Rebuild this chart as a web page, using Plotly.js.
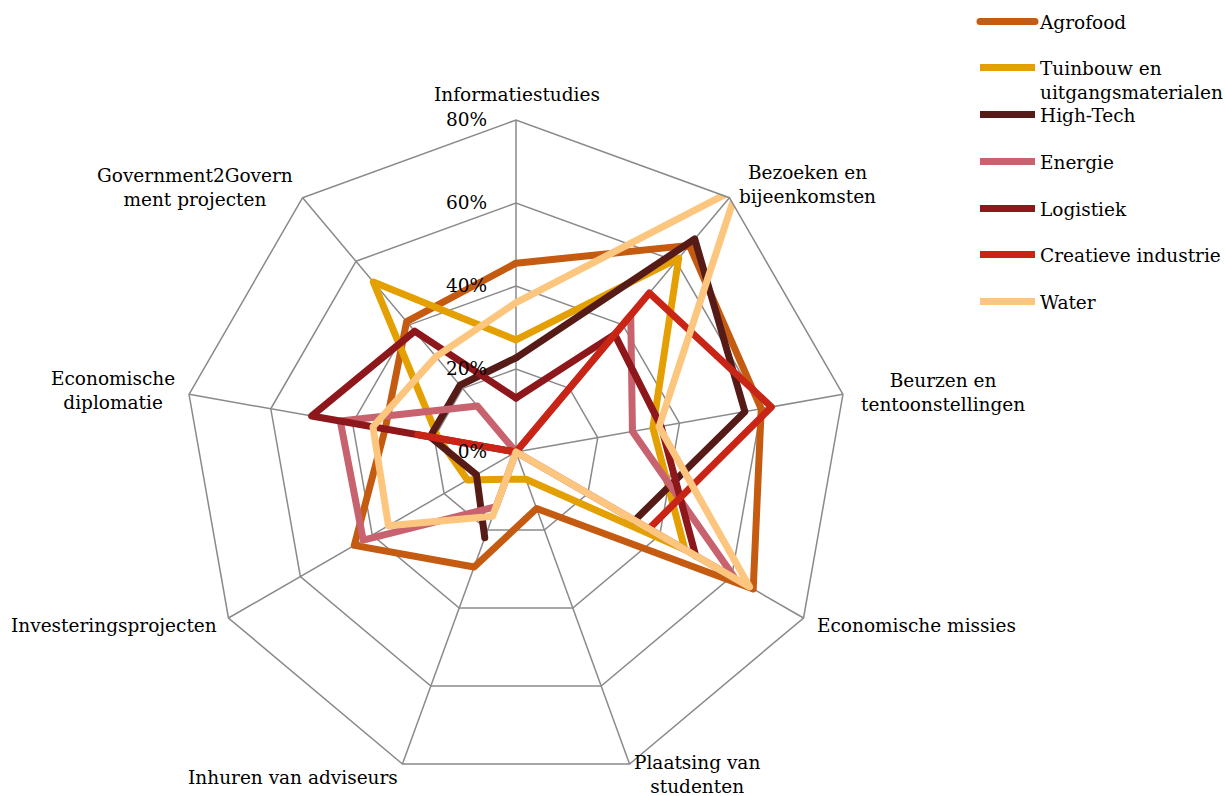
<!DOCTYPE html>
<html><head><meta charset="utf-8">
<script src="https://cdn.plot.ly/plotly-3.0.1.min.js"></script>
<style>
html,body{margin:0;padding:0;background:#fff;}
#chart{width:1225px;height:796px;}
.js-plotly-plot .scatterlayer .js-line, .js-plotly-plot .legend .js-line {stroke-linejoin:round !important; stroke-linecap:round !important;}
</style></head><body><div id="chart"></div><script>
const categories = ['Informatiestudies','Bezoeken en<br>bijeenkomsten','Beurzen en<br>tentoonstellingen','Economische missies','Plaatsing van<br>studenten','Inhuren van adviseurs','Investeringsprojecten','Economische<br>diplomatie','Government2Govern<br>ment projecten'];
const seriesNames = ['Agrofood','Tuinbouw en<br>uitgangsmaterialen','High-Tech','Energie','Logistiek','Creatieve industrie','Water'];
const agrofood  = [45.5, 65, 60, 66, 14.5, 29.5, 45, 32, 41];
const tuinbouw  = [27, 61, 33.5, 47, 7, 7, 13.5, 19, 53.5];
const highTech  = [22.7, 67, 56, 33, null, 22, 11, 21, 21];
const energie   = [0, 43, 28.5, 61, 0, 14, 42.5, 43, 14.5];
const logistiek = [13, 37, 35.5, 50, null, 0, 0, 50, 38];
const creatief  = [0, 50, 62.5, 37, null, null, null, 24, 0];
const water     = [36, 83, 35, 65, 0, 16.5, 35.5, 35, 30];
const radialTicks = [0, 20, 40, 60, 80];
const radialTickLabels = ['0%', '20%', '40%', '60%', '80%'];

const allSeries = [agrofood, tuinbouw, highTech, energie, logistiek, creatief, water];
const colors = ['#C55A11','#E3A000','#561B17','#C8626F','#8E171B','#C92516','#FDC67F'];
const legendY = [22, 80, 115, 162, 209, 255, 302];
// label centres (px) for the category texts
const labelPos = [[517,94],[807,185],[943,392],[916,625],[697,774],[293,777],[114,625],[113,391],[195,187]];
const W = 1225, H = 796;
const serif = 'DejaVu Serif, serif';
const fs = 18.5;

const traces = allSeries.map((vals, i) => ({
  type: 'scatterpolar',
  mode: 'lines',
  r: vals.concat([vals[0]]),
  theta: categories.concat([categories[0]]),
  name: seriesNames[i],
  line: {color: colors[i], width: 7},
  connectgaps: false,
  cliponaxis: false,
  hoverinfo: 'skip',
  legend: i === 0 ? 'legend' : 'legend' + (i + 1)
}));

const layout = {
  width: W, height: H,
  margin: {l: 0, r: 0, t: 0, b: 0, autoexpand: false},
  paper_bgcolor: '#fff',
  font: {family: serif, size: fs, color: '#000'},
  showlegend: true,
  polar: {
    domain: {x: [184 / W, 848 / W], y: [12 / H, 676 / H]},
    gridshape: 'linear',
    bgcolor: '#fff',
    radialaxis: {
      range: [0, 80], tickmode: 'array', tickvals: radialTicks,
      ticktext: radialTickLabels,
      angle: 90, side: 'counterclockwise', tickangle: 90,
      showline: false, ticks: 'outside', ticklen: 22, tickcolor: 'rgba(0,0,0,0)',
      gridcolor: '#8a8a8a', gridwidth: 1.5,
      tickfont: {family: serif, size: fs, color: '#000'}
    },
    angularaxis: {
      rotation: 90, direction: 'clockwise', type: 'category',
      categoryarray: categories, categoryorder: 'array',
      linecolor: '#8a8a8a', linewidth: 1.5, gridcolor: '#8a8a8a', gridwidth: 1.5,
      ticks: '', showticklabels: false
    }
  },
  annotations: categories.map((c, i) => ({
    text: c, xref: 'paper', yref: 'paper',
    x: labelPos[i][0] / W, y: 1 - labelPos[i][1] / H,
    xanchor: 'center', yanchor: 'middle', align: 'center', showarrow: false,
    font: {family: serif, size: fs, color: '#000'}
  }))
};
legendY.forEach((y, i) => {
  const key = i === 0 ? 'legend' : 'legend' + (i + 1);
  layout[key] = {
    x: 975 / W, xanchor: 'left', y: 1 - y / H, yanchor: 'middle',
    bgcolor: 'rgba(0,0,0,0)', valign: 'top', itemwidth: 55,
    font: {family: serif, size: fs, color: '#000'}
  };
});
Plotly.newPlot('chart', traces, layout, {displayModeBar: false, staticPlot: true});
</script></body></html>
